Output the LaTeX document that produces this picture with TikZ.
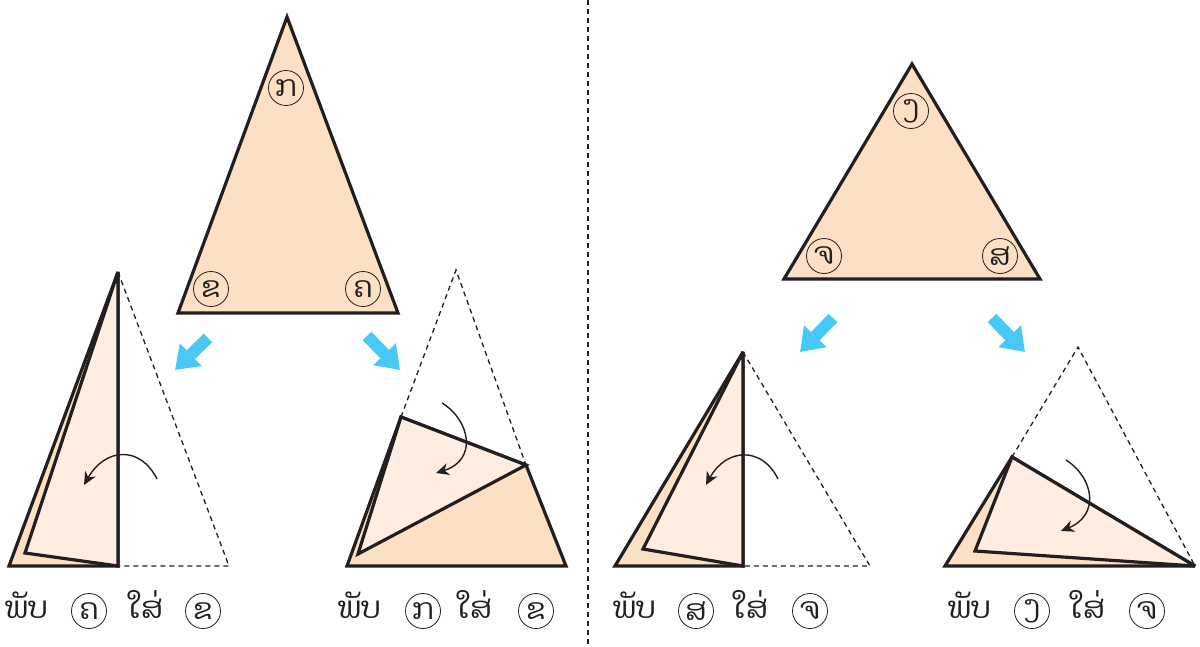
\documentclass[tikz,border=0pt]{standalone}
\usepackage{fontspec}
\newfontfamily\laofont[Script=Lao]{Dhyana}
\usetikzlibrary{arrows.meta}
\definecolor{peach}{RGB}{252,224,196}
\definecolor{flapc}{RGB}{254,237,224}
\definecolor{inkc}{RGB}{35,31,32}
\definecolor{bluec}{RGB}{72,200,245}
\tikzset{
 tri/.style={draw=inkc, line width=3.2pt, line join=miter, miter limit=3, fill=peach},
 flap/.style={draw=inkc, line width=3.2pt, line join=miter, miter limit=3, fill=flapc},
 guide/.style={draw=inkc, dash pattern=on 5pt off 4pt, line width=1.3pt},
 turn/.style={draw=inkc, line width=1.4pt, -{Stealth[length=13pt,width=12pt]}},
 push/.style={draw=bluec, line width=12pt, -{Triangle[length=22pt,width=30pt]}},
 lab/.style={circle, draw=inkc, line width=0.8pt, minimum size=35pt, inner sep=0pt, text=inkc, font=\laofont\fontsize{29}{30}\selectfont},
 word/.style={font=\laofont\fontsize{30}{32}\selectfont, inner sep=0pt, text=inkc, anchor=base west}
}
\begin{document}
\begin{tikzpicture}[x=1pt,y=-1pt]
\useasboundingbox (0,0) rectangle (1200,646);
% divider
\coordinate (d1) at (588,0); \coordinate (d2) at (588,646);
\draw[guide] (d1) -- (d2);

% ---- top left triangle
\coordinate (ta) at (287,17); \coordinate (tb) at (178,313); \coordinate (tc) at (398,313);
\draw[tri] (ta) -- (tb) -- (tc) -- cycle;
\node[lab] (lka) at (286,88) {ກ};
\node[lab] (lkb) at (211,289) {ຂ};
\node[lab] (lkc) at (363,289) {ຄ};

% ---- top right triangle
\coordinate (ua) at (912,64); \coordinate (ub) at (784,279); \coordinate (uc) at (1040,279);
\draw[tri] (ua) -- (ub) -- (uc) -- cycle;
\node[lab] (lng) at (911,111) {ງ};
\node[lab] (lcj) at (824,256) {ຈ};
\node[lab] (lsa) at (1000,256) {ສ};

% ---- blue arrows
\coordinate (p1s) at (208,338); \coordinate (p1e) at (175,370);
\coordinate (p2s) at (367,336); \coordinate (p2e) at (400,370);
\coordinate (p3s) at (833,318); \coordinate (p3e) at (800,352);
\coordinate (p4s) at (992,318); \coordinate (p4e) at (1025,352);
\draw[push] (p1s) -- (p1e);
\draw[push] (p2s) -- (p2e);
\draw[push] (p3s) -- (p3e);
\draw[push] (p4s) -- (p4e);

% ---- panel 1: fold kho onto khho
\coordinate (a1) at (118,272); \coordinate (b1) at (9,566); \coordinate (m1) at (118,566);
\coordinate (c1) at (229,566); \coordinate (f1) at (25,553);
\draw[tri] (b1) -- (a1) -- (m1) -- cycle;
\draw[flap] (a1) -- (f1) -- (m1) -- cycle;
\draw[guide] (a1) -- (c1) -- (m1);
\coordinate (r1s) at (157,479); \coordinate (r1e) at (84,485);
\draw[turn] (r1s) .. controls (140,445) and (105,448) .. (r1e);

% ---- panel 2: fold ko onto khho
\coordinate (a2) at (456,270); \coordinate (b2) at (347,566); \coordinate (c2) at (566,566);
\coordinate (g2) at (401,417); \coordinate (h2) at (526,465); \coordinate (f2) at (358,554);
\draw[tri] (b2) -- (g2) -- (h2) -- (c2) -- cycle;
\draw[flap] (g2) -- (h2) -- (f2) -- cycle;
\draw[guide] (g2) -- (a2) -- (h2);
\coordinate (r2s) at (442,403); \coordinate (r2e) at (436,473);
\draw[turn] (r2s) .. controls (470,420) and (478,460) .. (r2e);

% ---- panel 3: fold sa onto ja
\coordinate (a3) at (743,352); \coordinate (b3) at (615,566); \coordinate (m3) at (743,566);
\coordinate (c3) at (870,566); \coordinate (f3) at (643,549);
\draw[tri] (b3) -- (a3) -- (m3) -- cycle;
\draw[flap] (a3) -- (f3) -- (m3) -- cycle;
\draw[guide] (a3) -- (c3) -- (m3);
\coordinate (r3s) at (778,479); \coordinate (r3e) at (706,485);
\draw[turn] (r3s) .. controls (762,446) and (726,448) .. (r3e);

% ---- panel 4: fold nga onto ja
\coordinate (a4) at (1078,347); \coordinate (b4) at (945,566); \coordinate (c4) at (1195,566);
\coordinate (g4) at (1012,457); \coordinate (f4) at (975,551);
\draw[tri] (b4) -- (g4) -- (c4) -- cycle;
\draw[flap] (g4) -- (c4) -- (f4) -- cycle;
\draw[guide] (g4) -- (a4) -- (c4);
\coordinate (r4s) at (1066,460); \coordinate (r4e) at (1061,531);
\draw[turn] (r4s) .. controls (1094,478) and (1100,515) .. (r4e);

% ---- captions
\node[word] (w1) at (5,618) {ພັບ};
\node[lab] (c1a) at (89,611) {ຄ};
\node[word] (w1b) at (128,618) {ໃສ່};
\node[lab] (c1b) at (203,611) {ຂ};

\node[word] (w2) at (338,618) {ພັບ};
\node[lab] (c2a) at (423,611) {ກ};
\node[word] (w2b) at (457,618) {ໃສ່};
\node[lab] (c2b) at (536,611) {ຂ};

\node[word] (w3) at (613,618) {ພັບ};
\node[lab] (c3a) at (696,611) {ສ};
\node[word] (w3b) at (733,618) {ໃສ່};
\node[lab] (c3b) at (810,611) {ຈ};

\node[word] (w4) at (948,618) {ພັບ};
\node[lab] (c4a) at (1032,611) {ງ};
\node[word] (w4b) at (1070,618) {ໃສ່};
\node[lab] (c4b) at (1147,611) {ຈ};
\end{tikzpicture}
\end{document}
